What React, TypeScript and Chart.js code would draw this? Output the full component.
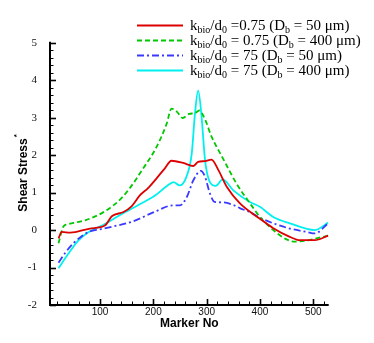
import { useEffect, useRef } from 'react';
import { Chart, registerables } from 'chart.js';

Chart.register(...registerables);

// ---- data ----
const redX = [22, 28, 44, 81, 109, 122, 144, 159, 175, 190, 206, 220, 234, 256, 275, 284, 297, 309, 322, 338, 362, 400, 425, 456, 475, 503, 528];
const redY = [-0.22, -0.05, -0.07, 0.04, 0.12, 0.37, 0.48, 0.63, 0.93, 1.12, 1.38, 1.62, 1.85, 1.79, 1.71, 1.82, 1.84, 1.88, 1.6, 1.15, 0.72, 0.3, 0.05, -0.18, -0.27, -0.27, -0.15];

const greenX = [22, 31, 38, 50, 72, 109, 140, 166, 175, 206, 225, 234, 244, 255, 267, 278, 286, 297, 309, 331, 356, 381, 400, 425, 450, 466, 488, 506, 528];
const greenY = [-0.35, 0.09, 0.15, 0.19, 0.26, 0.5, 0.85, 1.32, 1.52, 2.22, 2.84, 3.24, 3.16, 2.99, 3.1, 3.12, 3.19, 2.95, 2.5, 1.9, 1.24, 0.72, 0.35, 0.0, -0.25, -0.31, -0.28, -0.22, -0.15];

const blueX = [22, 35, 50, 65, 80, 100, 122, 159, 203, 237, 250, 263, 275, 289, 297, 306, 315, 331, 350, 363, 381, 400, 425, 456, 488, 503, 528];
const blueY = [-0.87, -0.6, -0.35, -0.17, -0.04, 0.02, 0.09, 0.22, 0.49, 0.66, 0.66, 0.89, 1.33, 1.58, 1.42, 0.98, 0.75, 0.74, 0.67, 0.58, 0.48, 0.33, 0.18, 0.04, -0.05, -0.09, 0.18];

const cyanX = [22, 40, 59, 78, 109, 140, 172, 203, 225, 238, 249, 262, 272, 278, 284, 290, 297, 306, 317, 330, 350, 381, 400, 425, 456, 503, 528];
const cyanY = [-1.02, -0.64, -0.28, -0.06, 0.16, 0.42, 0.67, 0.92, 1.17, 1.28, 1.19, 1.42, 2.04, 3.1, 3.72, 3.1, 1.86, 1.28, 1.18, 1.35, 1.06, 0.75, 0.62, 0.35, 0.18, 0.0, 0.2];

// legend labels: [text, isSubscript]
const legendLabels: [string, boolean][][] = [
  [['k', false], ['bio', true], ['/d', false], ['0', true], [' =0.75 (D', false], ['b', true], [' = 50 \u03bcm)', false]],
  [['k', false], ['bio', true], ['/d', false], ['0', true], [' = 0.75 (D', false], ['b', true], [' = 400 \u03bcm)', false]],
  [['k', false], ['bio', true], ['/d', false], ['0', true], [' = 75 (D', false], ['b', true], [' = 50 \u03bcm)', false]],
  [['k', false], ['bio', true], ['/d', false], ['0', true], [' = 75 (D', false], ['b', true], [' = 400 \u03bcm)', false]],
];

const xTitle = 'Marker No';
const yTitle = 'Shear Stress';
const yTitleSup = '*';

const xMin = 6;
const xMax = 529;
const yMin = -2;
const yMax = 5;

const series = [
  { x: redX, y: redY, color: '#dd0000', dash: [] as number[] },
  { x: greenX, y: greenY, color: '#00c800', dash: [5, 3] },
  { x: blueX, y: blueY, color: '#3a3aff', dash: [7, 3, 2, 3] },
  { x: cyanX, y: cyanY, color: '#00f0f0', dash: [] as number[] },
];

const SANS = '"Liberation Sans", Arial, sans-serif';
const SERIF = '"Liberation Serif", "Times New Roman", serif';

const decorPlugin = {
  id: 'decor',
  afterDraw(chart: any) {
    const ctx: CanvasRenderingContext2D = chart.ctx;
    const area = chart.chartArea;
    const xs = chart.scales.x;
    const ys = chart.scales.y;
    ctx.save();
    ctx.strokeStyle = '#000';
    ctx.fillStyle = '#000';
    ctx.setLineDash([]);
    // axis lines
    ctx.lineWidth = 2;
    ctx.beginPath();
    ctx.moveTo(area.left, area.top - 1);
    ctx.lineTo(area.left, area.bottom);
    ctx.lineTo(area.right, area.bottom);
    ctx.stroke();
    // x ticks (inward)
    for (let v = 20; v <= xMax; v += 20) {
      if (v < xMin) continue;
      const px = Math.round(xs.getPixelForValue(v)) + 0.5;
      const major = v % 100 === 0;
      ctx.lineWidth = major ? 1.6 : 1;
      ctx.beginPath();
      ctx.moveTo(px, area.bottom);
      ctx.lineTo(px, area.bottom - (major ? 6 : 3.5));
      ctx.stroke();
    }
    // y ticks (inward)
    for (let i = yMin * 5; i <= yMax * 5; i++) {
      const py = Math.round(ys.getPixelForValue(i / 5)) + 0.5;
      const major = i % 5 === 0;
      ctx.lineWidth = major ? 1.6 : 1;
      ctx.beginPath();
      ctx.moveTo(area.left, py);
      ctx.lineTo(area.left + (major ? 6 : 3.5), py);
      ctx.stroke();
    }
    // x tick labels from the scale's ticks
    ctx.font = '10px ' + SANS;
    ctx.textAlign = 'center';
    ctx.textBaseline = 'middle';
    ctx.fillStyle = '#111';
    xs.ticks.forEach((t: any) => {
      ctx.fillText(String(t.value), xs.getPixelForValue(t.value), area.bottom + 7);
    });
    ctx.fillStyle = '#000';
    // x title
    ctx.font = 'bold 12px ' + SANS;
    ctx.textAlign = 'center';
    ctx.textBaseline = 'alphabetic';
    ctx.fillText(xTitle, (area.left + area.right) / 2, 326.5);
    // y title (rotated)
    ctx.save();
    ctx.translate(27, 175);
    ctx.rotate(-Math.PI / 2);
    ctx.font = 'bold 12px ' + SANS;
    ctx.textAlign = 'center';
    ctx.fillText(yTitle, 0, 0);
    const w = ctx.measureText(yTitle).width;
    ctx.font = 'bold 8px ' + SANS;
    ctx.textAlign = 'left';
    ctx.fillText(yTitleSup, w / 2 + 1, -8);
    ctx.restore();
    // legend
    legendLabels.forEach((segs, i) => {
      const cy = 25.5 + 15 * i;
      const s = series[i];
      ctx.strokeStyle = s.color;
      ctx.lineWidth = 1.8;
      ctx.setLineDash(s.dash);
      ctx.beginPath();
      ctx.moveTo(137, cy);
      ctx.lineTo(183, cy);
      ctx.stroke();
      ctx.setLineDash([]);
      let x = 190;
      const base = cy + 4;
      ctx.fillStyle = '#000';
      ctx.textAlign = 'left';
      ctx.textBaseline = 'alphabetic';
      segs.forEach(([t, sub]) => {
        ctx.font = sub ? '10px ' + SERIF : '15px ' + SERIF;
        ctx.fillText(t, x, sub ? base + 3.5 : base);
        x += ctx.measureText(t).width;
      });
    });
    ctx.restore();
  },
};

export default function App() {
  const ref = useRef<HTMLCanvasElement | null>(null);
  useEffect(() => {
    if (!ref.current) return;
    const chart = new Chart(ref.current, {
      type: 'line',
      data: {
        datasets: series.map((s, i) => ({
          label: 'series' + i,
          data: s.x.map((x, j) => ({ x, y: s.y[j] })),
          borderColor: s.color,
          borderWidth: 1.8,
          borderDash: s.dash,
          pointRadius: 0,
          fill: false,
          cubicInterpolationMode: 'monotone' as const,
        })),
      },
      options: {
        animation: false,
        responsive: false,
        devicePixelRatio: 1,
        layout: { padding: { top: 42.7, right: 45.3, left: 0, bottom: 0 } },
        plugins: { legend: { display: false }, tooltip: { enabled: false }, title: { display: false } },
        scales: {
          x: {
            type: 'linear',
            min: xMin,
            max: xMax,
            grid: { display: false },
            border: { display: false },
            ticks: {
              display: false,
              stepSize: 100,
              includeBounds: false,
              maxRotation: 0,
            },
            afterFit: (s: any) => { s.height = 38; },
          },
          y: {
            type: 'linear',
            min: yMin,
            max: yMax,
            grid: { display: false },
            border: { display: false },
            ticks: {
              stepSize: 1,
              padding: 5,
              color: '#111',
              font: { family: SERIF, size: 11 },
            },
            afterFit: (s: any) => { s.width = 50; },
          },
        },
      },
      plugins: [decorPlugin],
    });
    return () => chart.destroy();
  }, []);
  return (
    <div style={{ position: 'fixed', left: 0, top: 0, width: 374, height: 343, background: '#fff' }}>
      <canvas ref={ref} width={374} height={343} style={{ width: 374, height: 343, display: 'block' }} />
    </div>
  );
}
